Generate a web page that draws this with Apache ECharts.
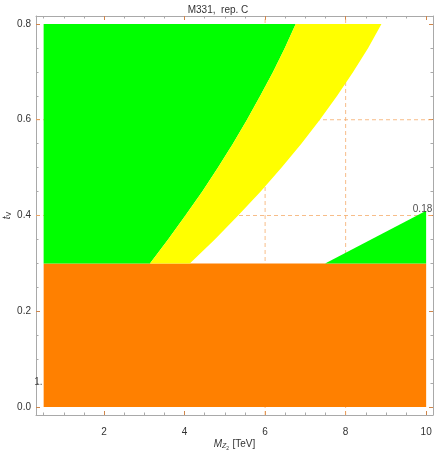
<!DOCTYPE html>
<html>
<head>
<meta charset="utf-8">
<script src="https://cdn.jsdelivr.net/npm/echarts@6/dist/echarts.min.js"></script>
<style>html,body{margin:0;padding:0;background:#fff}#c{width:436px;height:453px}</style>
</head>
<body>
<div id="c"></div>
<script>
// ---- data ----
const titleText = 'M331,  rep. C';
const xMajor = [2, 4, 6, 8, 10];
const yMajor = [0, 0.2, 0.4, 0.6, 0.8];
const xMinorStep = 0.5;
const yMinorStep = 0.05;
// excluded region (orange band)
const orangeRegion = [[0.5, 0], [10, 0], [10, 0.3], [0.5, 0.3]];
// boundary of the upper-left green region
const greenBoundary = [[3.14, 0.3], [3.59, 0.35], [4.02, 0.4], [4.44, 0.45], [4.83, 0.5], [5.2, 0.55],
  [5.55, 0.6], [5.88, 0.65], [6.2, 0.7], [6.49, 0.75], [6.76, 0.8]];
// outer boundary of the yellow band
const yellowBoundary = [[4.13, 0.3], [4.75, 0.35], [5.33, 0.4], [5.89, 0.45], [6.41, 0.5], [6.9, 0.55],
  [7.36, 0.6], [7.79, 0.65], [8.19, 0.7], [8.56, 0.75], [8.89, 0.8]];
// lower-right green wedge
const greenWedge = [[7.49, 0.3], [10, 0.41], [10, 0.3]];
const dashX = [6, 8];
const dashY = [0.4, 0.6];
const contourLabels = [[9.91, 0.414, '0.18'], [0.37, 0.052, '1.']];

// ---- build ----
const xMin = 0.31, xMax = 10.17, yMin = -0.0167, yMax = 0.8167;
function minors(lo, hi, step, majors) {
  const out = [];
  for (let v = lo; v <= hi + 1e-9; v += step) {
    const r = Math.round(v * 1000) / 1000;
    if (!majors.some(m => Math.abs(m - r) < 1e-6)) out.push(r);
  }
  return out;
}
const xMinor = minors(0.5, 10, xMinorStep, xMajor);
const yMinor = minors(0, 0.8, yMinorStep, yMajor);

const greenRegion = [[0.5, 0.3]].concat(greenBoundary, [[0.5, 0.8]]);
const yellowRegion = greenBoundary.concat(yellowBoundary.slice().reverse());
const regions = [
  {pts: orangeRegion, color: '#ff8000'},
  {pts: greenRegion, color: '#00ff00'},
  {pts: yellowRegion, color: '#ffff00'},
  {pts: greenWedge, color: '#00ff00'}
];

const frame = '#a9a9a9';
const majorTick = '#d0864a';
const lab = {color: '#333', fontSize: 10, fontFamily: 'Liberation Sans, Arial, sans-serif'};

function xAx(pos, major) {
  return {
    type: 'value', position: pos, min: xMin, max: xMax,
    axisLine: {show: major, onZero: false, lineStyle: {color: frame, width: 1}},
    axisTick: {show: true, inside: true, length: major ? 4 : 2.5, customValues: major ? xMajor : xMinor,
      lineStyle: {color: major ? majorTick : frame}},
    axisLabel: (major && pos === 'bottom') ? Object.assign({show: true, customValues: xMajor, margin: 12,
      formatter: v => String(v)}, lab) : {show: false},
    splitLine: {show: false}
  };
}
function yAx(pos, major) {
  return {
    type: 'value', position: pos, min: yMin, max: yMax,
    axisLine: {show: major, onZero: false, lineStyle: {color: frame, width: 1}},
    axisTick: {show: true, inside: true, length: major ? 4 : 2.5, customValues: major ? yMajor : yMinor,
      lineStyle: {color: major ? majorTick : frame}},
    axisLabel: (major && pos === 'left') ? Object.assign({show: true, customValues: yMajor, margin: 5,
      formatter: v => v.toFixed(1)}, lab) : {show: false},
    splitLine: {show: false}
  };
}

const xAxes = [xAx('bottom', true), xAx('bottom', false), xAx('top', true), xAx('top', false)];
xAxes[0].name = '{m|M}{z|Z}{n|2} {u|[TeV]}';
xAxes[0].nameLocation = 'middle';
xAxes[0].nameGap = 22;
xAxes[0].nameMoveOverlap = false;
xAxes[0].nameTextStyle = {
  fontFamily: 'Liberation Sans, Arial, sans-serif', color: '#333',
  rich: {
    m: {fontStyle: 'italic', fontSize: 10, fontFamily: 'Liberation Sans', color: '#333'},
    z: {fontStyle: 'italic', fontSize: 7, fontFamily: 'Liberation Sans', color: '#333', padding: [5, 0, 0, 0]},
    n: {fontSize: 5, fontFamily: 'Liberation Sans', color: '#333', padding: [9, 0, 0, 0]},
    u: {fontSize: 10, fontFamily: 'Liberation Sans', color: '#333'}
  }
};
const yAxes = [yAx('left', true), yAx('left', false), yAx('right', true), yAx('right', false)];
yAxes[0].name = '{t|t}{v|V}';
yAxes[0].nameLocation = 'middle';
yAxes[0].nameRotate = 90;
yAxes[0].nameGap = 23;
yAxes[0].nameMoveOverlap = false;
yAxes[0].nameTextStyle = {
  rich: {
    t: {fontStyle: 'italic', fontSize: 10, fontFamily: 'Liberation Sans', color: '#333'},
    v: {fontSize: 7, fontFamily: 'Liberation Sans', color: '#333', padding: [5, 0, 0, 0]}
  }
};

const dashStyle = {color: '#f5ad6c', type: [4, 3], width: 1, opacity: 0.8};
const series = [];
dashX.forEach(v => series.push({
  type: 'line', xAxisIndex: 0, yAxisIndex: 0, z: 1, silent: true, symbol: 'none', animation: false,
  data: [[v, yMin], [v, yMax]], lineStyle: dashStyle
}));
dashY.forEach(v => series.push({
  type: 'line', xAxisIndex: 0, yAxisIndex: 0, z: 1, silent: true, symbol: 'none', animation: false,
  data: [[xMin, v], [xMax, v]], lineStyle: dashStyle
}));
regions.forEach((r, i) => {
  series.push({
    type: 'custom', coordinateSystem: 'cartesian2d', xAxisIndex: 0, yAxisIndex: 0, z: 2 + i,
    silent: true, animation: false,
    data: [[r.pts[0][0], r.pts[0][1]]],
    renderItem: function (params, api) {
      return {
        type: 'polygon',
        shape: {points: r.pts.map(p => api.coord(p))},
        style: {fill: r.color, stroke: null}
      };
    }
  });
});
series.push({
  type: 'scatter', xAxisIndex: 0, yAxisIndex: 0, z: 10, symbolSize: 0, silent: true, animation: false,
  data: contourLabels.map(d => [d[0], d[1], d[2]]),
  label: {show: true, position: 'inside', formatter: p => p.value[2], color: '#222', fontSize: 10,
    fontFamily: 'Liberation Sans, Arial, sans-serif'}
});

const chart = echarts.init(document.getElementById('c'), null, {renderer: 'canvas'});
chart.setOption({
  animation: false,
  backgroundColor: '#fff',
  title: {text: titleText, left: 'center', top: 0,
    textStyle: {fontSize: 10, fontWeight: 'normal', color: '#333', fontFamily: 'Liberation Sans, Arial, sans-serif'}},
  grid: {left: 36, right: 3, top: 16, bottom: 38, containLabel: false, outerBoundsMode: 'none'},
  xAxis: xAxes,
  yAxis: yAxes,
  series: series
});
</script>
</body>
</html>
